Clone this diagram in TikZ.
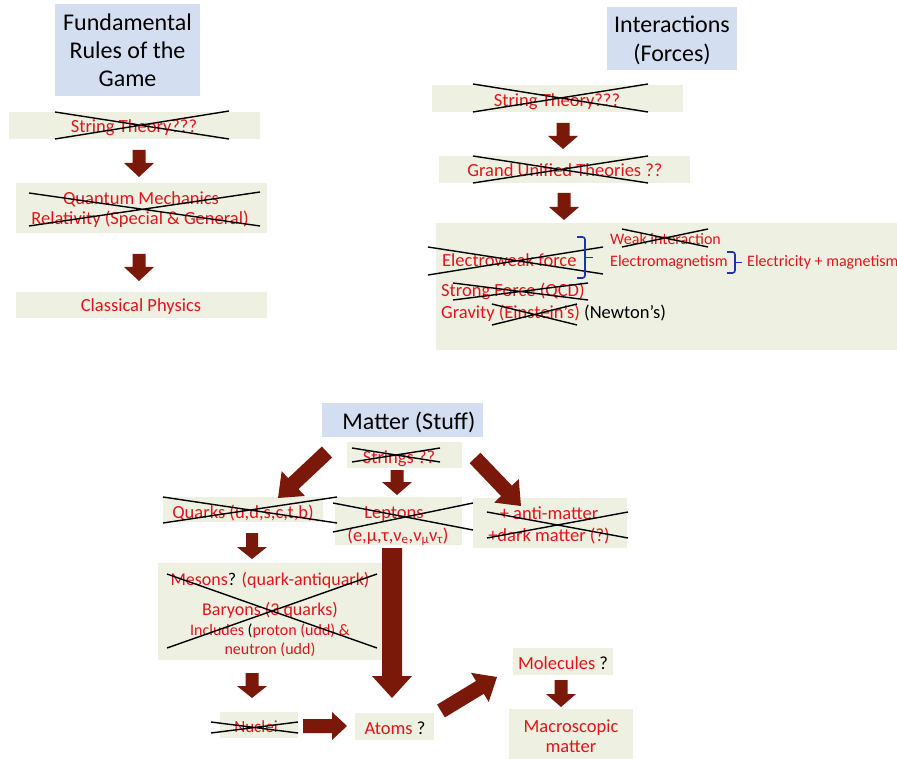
\documentclass[tikz,border=0pt]{standalone}
\usepackage{fontspec}
\setmainfont{Carlito}
\definecolor{redc}{RGB}{226,20,26}
\definecolor{boxc}{RGB}{238,240,226}
\definecolor{titlec}{RGB}{211,223,241}
\definecolor{arrowc}{RGB}{122,24,10}
\definecolor{bluec}{RGB}{30,50,170}
\makeatletter
\newcommand\blockarrow[5]{%
  \pgfpointdiff{\pgfpointanchor{#1}{center}}{\pgfpointanchor{#2}{center}}%
  \edef\badx{\the\pgf@x}\edef\bady{\the\pgf@y}%
  \pgfmathsetmacro\baang{atan2(\bady,\badx)}%
  \pgfmathsetmacro\balen{veclen(\badx,\bady)}%
  \fill[arrowc, shift={(#1)}, rotate=\baang] (0pt,#3pt) -- ({\balen*1pt-#5pt},#3pt) -- ({\balen*1pt-#5pt},#4pt) -- ({\balen*1pt},0pt) -- ({\balen*1pt-#5pt},-#4pt) -- ({\balen*1pt-#5pt},-#3pt) -- (0pt,-#3pt) -- cycle;%
}
\makeatother
\begin{document}
\begin{tikzpicture}[x=1pt,y=-1pt,
  box/.style={fill=boxc, draw=none, inner sep=0pt},
  tbox/.style={fill=titlec, draw=none, inner sep=0pt},
  rt/.style={text=redc, inner sep=0pt, anchor=base, font=\fontsize{18.5}{22}\selectfont},
  rtw/.style={rt, anchor=base west},
  rts/.style={rt, font=\fontsize{16}{19}\selectfont},
  rtsw/.style={rts, anchor=base west},
  tt/.style={text=black, inner sep=0pt, anchor=base, font=\fontsize{24}{29}\selectfont},
  strike/.style={draw=black, line width=1.4pt},
  bracestyle/.style={draw=bluec, line width=1.6pt, rounded corners=2.5pt}]
\fill[white] (0,0) rectangle (897,759);
\useasboundingbox (0,0) rectangle (897,759);

% ---------- boxes ----------
\node[tbox, minimum width=145pt, minimum height=92pt] (title1) at (127.5,50) {};
\node[box, minimum width=251pt, minimum height=27pt] (stA) at (134.5,125.5) {};
\node[box, minimum width=251pt, minimum height=50pt] (qmA) at (141.5,208) {};
\node[box, minimum width=251pt, minimum height=26pt] (cpA) at (141.5,305) {};
\node[tbox, minimum width=130pt, minimum height=63pt] (title2) at (672,38.5) {};
\node[box, minimum width=251pt, minimum height=27pt] (stB) at (557.5,98.5) {};
\node[box, minimum width=251pt, minimum height=27pt] (gutB) at (564.5,169.5) {};
\node[box, minimum width=461pt, minimum height=127pt] (bigB) at (666.5,286.5) {};
\node[tbox, minimum width=161pt, minimum height=34pt] (title3) at (402.5,420) {};
\node[box, minimum width=115pt, minimum height=26pt] (strC) at (404.5,455) {};
\node[box, minimum width=160pt, minimum height=25pt] (quarkC) at (243,509.5) {};
\node[box, minimum width=127pt, minimum height=48pt] (leptC) at (398.5,521) {};
\node[box, minimum width=154pt, minimum height=50pt] (antiC) at (550,523) {};
\node[box, minimum width=224pt, minimum height=97pt] (mesC) at (270,611.5) {};
\node[box, minimum width=78pt, minimum height=26pt] (nucC) at (259,725) {};
\node[box, minimum width=79pt, minimum height=27pt] (atomC) at (394.5,726.5) {};
\node[box, minimum width=100pt, minimum height=27pt] (molC) at (563,661.5) {};
\node[box, minimum width=124pt, minimum height=51pt] (macC) at (571,734.5) {};

% ---------- titles ----------
\node[tt] (tFund) at (127.5,31) {Fundamental};
\node[tt] (tRules) at (127.5,59) {Rules of the};
\node[tt] (tGame) at (127.5,87) {Game};
\node[tt] (tInter) at (672,33) {Interactions};
\node[tt] (tForces) at (672,62) {(Forces)};
\node[tt] (tMatter) at (409,429) {Matter (Stuff)};

% ---------- left column texts ----------
\node[rt] (tStA) at (134,132.5) {String Theory???};
\node[rt] (tQM) at (141,204.5) {Quantum Mechanics};
\node[rt] (tRel) at (140,224.5) {Relativity (Special \& General)};
\node[rt] (tCP) at (141,312) {Classical Physics};

% ---------- right column texts ----------
\node[rt] (tStB) at (557,107) {String Theory???};
\node[rt] (tGUT) at (565,177) {Grand Unified Theories ??};
\node[rtw] (tEW) at (442,267) {Electroweak force};
\node[rtsw] (tWeak) at (610,245) {Weak interaction};
\node[rtsw] (tEM) at (610,267) {Electromagnetism};
\node[rtsw] (tEl) at (747,267) {Electricity + magnetism};
\node[rtw] (tStrong) at (441,297) {Strong Force (QCD)};
\node[rtw] (tGrav) at (441,319) {Gravity (Einstein’s) {\color{black}(Newton’s)}};

% ---------- matter texts ----------
\node[rt] (tStrings) at (399,463) {Strings ??};
\node[rt] (tQuarks) at (243,518) {Quarks (u,d,s,c,t,b)};
\node[rt] (tLept) at (394,518) {Leptons};
\node[rt] (tLept2) at (398,541) {(e,μ,τ,ν\textsubscript{e},ν\textsubscript{μ}ν\textsubscript{τ})};
\node[rt] (tAnti) at (549,519) {+ anti-matter};
\node[rt] (tDark) at (549,541.5) {+dark matter (?)};
\node[rt, font=\fontsize{18}{22}\selectfont] (tMes) at (270,585) {Mesons{\color{black}?} (quark-antiquark)};
\node[rt, font=\fontsize{18}{22}\selectfont] (tBar) at (270,615) {Baryons (3 quarks)};
\node[rts] (tInc) at (270,635) {Includes {\color{black}(}proton (udd) \&};
\node[rts] (tNeu) at (270,654) {neutron (udd)};
\node[rt, font=\fontsize{17}{20}\selectfont] (tNuc) at (256,732) {Nuclei};
\node[rt] (tAtom) at (395,734) {Atoms {\color{black}?}};
\node[rt] (tMol) at (563,669) {Molecules {\color{black}?}};
\node[rt] (tMac) at (571,732) {Macroscopic};
\node[rt] (tMac2) at (571,752) {matter};

% ---------- strike-outs ----------
\draw[strike] (55,112) -- (229,139) (55,139) -- (229,111);
\draw[strike] (29,193) -- (260,226) (29,226) -- (260,192);
\draw[strike] (473,84) -- (648,112) (473,112) -- (648,84);
\draw[strike] (473,156) -- (648,183) (473,183) -- (648,156);
\draw[strike] (428,247) -- (603,274) (428,275) -- (603,247);
\draw[strike] (622,229) -- (708,247) (622,247) -- (708,229);
\draw[strike] (453,283) -- (588,300) (453,300) -- (588,283);
\draw[strike] (492,304) -- (577,325) (492,325) -- (577,304);
\draw[strike] (352,448) -- (440,462) (352,462) -- (440,448);
\draw[strike] (163,497) -- (337,523) (163,523) -- (337,497);
\draw[strike] (333,503) -- (473,530) (333,532) -- (473,503);
\draw[strike] (487,512) -- (628,538) (487,538) -- (628,512);
\draw[strike] (167,574) -- (377,648) (167,648) -- (377,574);
\draw[strike] (211,722) -- (298,733) (211,733) -- (298,722);

% ---------- braces ----------
\draw[bracestyle] (577,237) -- (585,237) -- (585,278) -- (577,278);
\draw[bracestyle] (585,257.5) -- (593,257.5);
\draw[bracestyle] (727,252) -- (735,252) -- (735,273) -- (727,273);
\draw[bracestyle] (735,262.5) -- (742,262.5);

% ---------- block arrows ----------
\coordinate (a1s) at (139,150); \coordinate (a1e) at (139,177);
\coordinate (a2s) at (139,254); \coordinate (a2e) at (139,281);
\coordinate (a3s) at (563,123); \coordinate (a3e) at (563,149);
\coordinate (a4s) at (564,193); \coordinate (a4e) at (564,220);
\coordinate (a5s) at (327,452); \coordinate (a5e) at (278,498);
\coordinate (a6s) at (397,470); \coordinate (a6e) at (397,495);
\coordinate (a7s) at (475,458); \coordinate (a7e) at (521,506);
\coordinate (a8s) at (252,533); \coordinate (a8e) at (252,559);
\coordinate (a9s) at (392,548); \coordinate (a9e) at (392,698);
\coordinate (a10s) at (252,673); \coordinate (a10e) at (252,698);
\coordinate (a11s) at (303,726); \coordinate (a11e) at (347,726);
\coordinate (a12s) at (441,711); \coordinate (a12e) at (497,677);
\coordinate (a13s) at (561,680); \coordinate (a13e) at (561,707);
\blockarrow{a1s}{a1e}{6.5}{15}{14}
\blockarrow{a2s}{a2e}{6.5}{15}{14}
\blockarrow{a3s}{a3e}{6.5}{15}{13}
\blockarrow{a4s}{a4e}{6.5}{15}{13}
\blockarrow{a5s}{a5e}{7.5}{17}{21}
\blockarrow{a6s}{a6e}{6.5}{15}{13}
\blockarrow{a7s}{a7e}{7.5}{17}{21}
\blockarrow{a8s}{a8e}{6}{15}{12}
\blockarrow{a9s}{a9e}{10}{20}{22}
\blockarrow{a10s}{a10e}{6.5}{15}{12}
\blockarrow{a11s}{a11e}{7}{14}{15}
\blockarrow{a12s}{a12e}{7.5}{17}{20}
\blockarrow{a13s}{a13e}{6.5}{15}{13}
\end{tikzpicture}
\end{document}
